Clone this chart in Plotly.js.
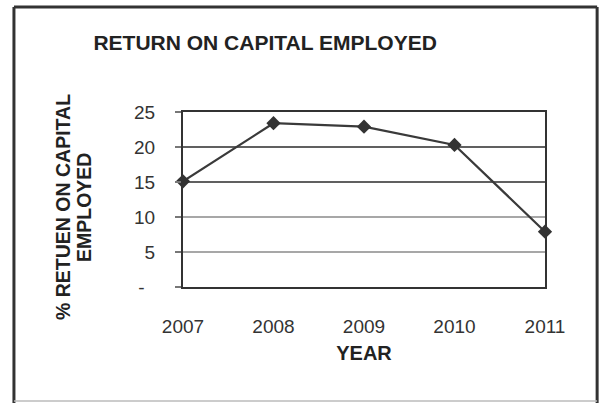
<!DOCTYPE html>
<html>
<head>
<meta charset="utf-8">
<script src="https://cdn.plot.ly/plotly-3.0.1.min.js"></script>
<style>html,body{margin:0;padding:0;background:#fff;}#chart{width:604px;height:405px;}</style>
</head>
<body>
<div id="chart"></div>
<script>
const years = ['2007', '2008', '2009', '2010', '2011'];
const roce = [15.1, 23.4, 22.9, 20.3, 7.9];
const yTickVals = [0, 5, 10, 15, 20, 25];
const yTickText = ['-  ', '5', '10', '15', '20', '25'];
const darkGridVals = [15, 20];
const lightGridVals = [5, 10];
const titleText = 'RETURN ON CAPITAL EMPLOYED';
const yTitleLines = ['% RETUEN ON CAPITAL', 'EMPLOYED'];
const xTitleText = 'YEAR';

const font = 'Liberation Sans, Arial, sans-serif';

const shapes = [];
darkGridVals.forEach(v => shapes.push({type:'line', xref:'paper', yref:'y', x0:0, x1:1, y0:v, y1:v, line:{color:'#2b2b2b', width:1.5}, layer:'below'}));
lightGridVals.forEach(v => shapes.push({type:'line', xref:'paper', yref:'y', x0:0, x1:1, y0:v, y1:v, line:{color:'#8a8a8a', width:1.5}, layer:'below'}));
// outer chart frame
shapes.push({type:'line', xref:'paper', yref:'paper', x0:-0.467, x1:-0.467, y0:-0.663, y1:1.6, line:{color:'#333', width:3}});
shapes.push({type:'line', xref:'paper', yref:'paper', x0:-0.467, x1:1.144, y0:1.6, y1:1.6, line:{color:'#333', width:3}});
shapes.push({type:'line', xref:'paper', yref:'paper', x0:1.144, x1:1.144, y0:-0.663, y1:1.6, line:{color:'#333', width:3}});
shapes.push({type:'line', xref:'paper', yref:'paper', x0:-0.467, x1:1.144, y0:-0.652, y1:-0.652, line:{color:'#bbb', width:1.5}});

const trace = {
  x: years, y: roce, type:'scatter', mode:'lines+markers',
  line:{color:'#3a3a3a', width:2.2},
  marker:{symbol:'diamond', size:11, color:'#333'},
  cliponaxis:false, hoverinfo:'skip'
};

const layout = {
  width:604, height:405,
  margin:{l:183, r:59, t:112, b:118},
  paper_bgcolor:'#fff', plot_bgcolor:'#fff',
  showlegend:false,
  title:{text:titleText, font:{family:font, size:21, color:'#222', weight:'bold'}, xref:'container', yref:'container', x:0.439, xanchor:'center', y:0.894, yanchor:'middle'},
  xaxis:{type:'category', range:[0,4], showgrid:false, zeroline:false, ticks:'', tickfont:{family:font, size:19, color:'#333'}, ticklabelstandoff:21,
    showline:true, mirror:true, linecolor:'#333', linewidth:2,
    title:{text:xTitleText, font:{family:font, size:20, color:'#222', weight:'bold'}, standoff:10}},
  yaxis:{range:[0,25], tickvals:yTickVals, ticktext:yTickText, showgrid:false, zeroline:false, ticks:'outside', ticklen:6, tickcolor:'#777', tickwidth:1.5,
    tickfont:{family:font, size:19, color:'#333'}, ticklabelstandoff:16,
    showline:true, mirror:true, linecolor:'#333', linewidth:2},
  shapes: shapes,
  annotations:[
    {text:yTitleLines[0], xref:'paper', yref:'paper', x:(63-183)/362, y:(287-207)/175, xanchor:'center', yanchor:'middle', textangle:-90, showarrow:false, font:{family:font, size:19.5, color:'#222', weight:'bold'}},
    {text:yTitleLines[1], xref:'paper', yref:'paper', x:(84-183)/362, y:(287-207)/175, xanchor:'center', yanchor:'middle', textangle:-90, showarrow:false, font:{family:font, size:19.5, color:'#222', weight:'bold'}}
  ]
};

Plotly.newPlot('chart', [trace], layout, {staticPlot:true, displayModeBar:false});
</script>
</body>
</html>
